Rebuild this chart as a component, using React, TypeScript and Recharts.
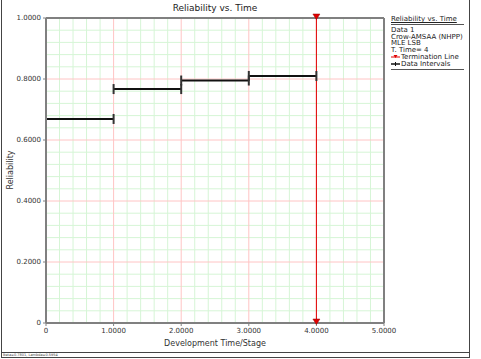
import React from 'react';
import {
  ComposedChart,
  XAxis,
  YAxis,
  ReferenceLine,
  Scatter,
  Label,
} from 'recharts';

// Data intervals (development stage -> reliability)
const intervalStart = [0, 1, 2, 3];
const intervalEnd = [1, 2, 3, 4];
const reliability = [0.669, 0.767, 0.795, 0.81];

const terminationTime = 4;
const xTicks = [0, 1, 2, 3, 4, 5];
const yTicks = [0, 0.2, 0.4, 0.6, 0.8, 1];
const legendLines = ['Data 1', 'Crow-AMSAA (NHPP)', 'MLE LSB', 'T. Time= 4'];

// minor grid every 1/5 of a major step
const minorX = Array.from({ length: 25 }, (_, i) => (i * 0.2)).filter((v) => v > 0 && Math.abs(v - Math.round(v)) > 1e-6);
const minorY = Array.from({ length: 25 }, (_, i) => (i * 0.04)).filter((v) => v > 0 && Math.abs(v * 5 - Math.round(v * 5)) > 1e-6);

const capPoints = intervalStart
  .flatMap((s, i) => [
    { x: s, y: reliability[i] },
    { x: intervalEnd[i], y: reliability[i] },
  ])
  .filter((p) => p.x > 0);

const termPoints = [
  { x: terminationTime, y: 1 },
  { x: terminationTime, y: 0 },
];

const FONT = 'DejaVu Sans, Verdana, sans-serif';
const MAJOR = '#ffc4c4';
const MINOR = '#d6f5d6';
const FRAME = '#808080';

const fmt = (v: number) => (v === 0 ? '0' : v.toFixed(4));

const Cap = (props: any) => {
  const { cx, cy } = props;
  return <line x1={cx} x2={cx} y1={cy - 5} y2={cy + 5} stroke="#333" strokeWidth={2} />;
};

const Tri = (props: any) => {
  const { cx, cy } = props;
  return <path d={`M${cx - 3.5},${cy - 4} L${cx + 3.5},${cy - 4} L${cx},${cy + 1.5} Z`} fill="#e00000" stroke="#900" strokeWidth={0.5} />;
};

export default function App() {
  return (
    <div style={{ position: 'absolute', left: 0, top: 0, width: 481, height: 359, background: '#fff', fontFamily: FONT }}>
      <ComposedChart width={481} height={359} margin={{ top: 18, right: 97, bottom: 0, left: 0 }}>
        <XAxis
          type="number"
          dataKey="x"
          domain={[0, 5]}
          ticks={xTicks}
          tickFormatter={fmt}
          height={36}
          stroke={FRAME}
          axisLine={{ stroke: FRAME, strokeWidth: 2 }}
          tickSize={3}
          tick={{ fontSize: 7, fill: '#333', fontFamily: FONT }}
          interval={0}
        >
          <Label value="Development Time/Stage" position="insideBottom" offset={13} style={{ fontSize: 8, fill: '#333', fontFamily: FONT }} />
        </XAxis>
        <YAxis
          type="number"
          dataKey="y"
          domain={[0, 1]}
          ticks={yTicks}
          tickFormatter={fmt}
          width={46}
          stroke={FRAME}
          axisLine={{ stroke: FRAME, strokeWidth: 2 }}
          tickSize={3}
          tick={{ fontSize: 7, fill: '#333', fontFamily: FONT }}
          interval={0}
        />

        {minorX.map((v) => (
          <ReferenceLine key={`mx${v}`} x={v} stroke={MINOR} strokeWidth={1} />
        ))}
        {minorY.map((v) => (
          <ReferenceLine key={`my${v}`} y={v} stroke={MINOR} strokeWidth={1} />
        ))}
        {xTicks.filter((v) => v > 0 && v < 5).map((v) => (
          <ReferenceLine key={`Mx${v}`} x={v} stroke={MAJOR} strokeWidth={1} />
        ))}
        {yTicks.filter((v) => v > 0 && v < 1).map((v) => (
          <ReferenceLine key={`My${v}`} y={v} stroke={MAJOR} strokeWidth={1} />
        ))}
        <ReferenceLine y={1} stroke={FRAME} strokeWidth={2} />
        <ReferenceLine x={5} stroke={FRAME} strokeWidth={2} />

        <ReferenceLine x={terminationTime} stroke="#e00000" strokeWidth={1} />

        {intervalStart.map((s, i) => (
          <ReferenceLine
            key={`seg${i}`}
            segment={[
              { x: s, y: reliability[i] },
              { x: intervalEnd[i], y: reliability[i] },
            ]}
            stroke="#111"
            strokeWidth={2}
          />
        ))}

        <Scatter data={capPoints} dataKey="y" shape={<Cap />} isAnimationActive={false} />
        <Scatter data={termPoints} dataKey="y" shape={<Tri />} isAnimationActive={false} />

        <text x={215} y={11} textAnchor="middle" style={{ fontSize: 9, fill: '#222', fontFamily: FONT }}>
          Reliability vs. Time
        </text>
        <text x={13} y={170} textAnchor="middle" transform="rotate(-90 13 170)" style={{ fontSize: 8, fill: '#333', fontFamily: FONT }}>
          Reliability
        </text>
      </ComposedChart>

      {/* legend */}
      <div style={{ position: 'absolute', left: 391, top: 16, width: 73, fontSize: 7, color: '#222', lineHeight: '6.8px', fontFamily: FONT, whiteSpace: 'nowrap' }}>
        <div style={{ textDecoration: 'underline', borderBottom: '1px solid #555', paddingBottom: 1, marginBottom: 2 }}>Reliability vs. Time</div>
        {legendLines.map((t) => (
          <div key={t}>{t}</div>
        ))}
        <div style={{ display: 'flex', alignItems: 'center' }}>
          <svg width={9} height={6}>
            <line x1={0} x2={9} y1={3} y2={3} stroke="#e00000" strokeWidth={1} />
            <path d="M2.5,1 L6.5,1 L4.5,4 Z" fill="#e00000" />
          </svg>
          <span style={{ marginLeft: 1 }}>Termination Line</span>
        </div>
        <div style={{ display: 'flex', alignItems: 'center', borderBottom: '1px solid #555', paddingBottom: 1 }}>
          <svg width={9} height={6}>
            <line x1={0} x2={9} y1={3} y2={3} stroke="#111" strokeWidth={1.5} />
            <line x1={4.5} x2={4.5} y1={1} y2={5} stroke="#111" strokeWidth={1} />
          </svg>
          <span style={{ marginLeft: 1 }}>Data Intervals</span>
        </div>
      </div>

      {/* outer frame */}
      <div style={{ position: 'absolute', left: 1, top: 0, width: 1, height: 357, background: '#444' }} />
      <div style={{ position: 'absolute', left: 469, top: 0, width: 1, height: 357, background: '#444' }} />
      <div style={{ position: 'absolute', left: 1, top: 352, width: 469, height: 1, background: '#444' }} />
      <div style={{ position: 'absolute', left: 1, top: 357, width: 469, height: 1, background: '#444' }} />
      <div style={{ position: 'absolute', left: 3, top: 353, fontSize: 3.5, lineHeight: '4px', color: '#444', fontFamily: FONT, whiteSpace: 'nowrap' }}>
        Beta=0.7801, Lambda=0.5954
      </div>
    </div>
  );
}
